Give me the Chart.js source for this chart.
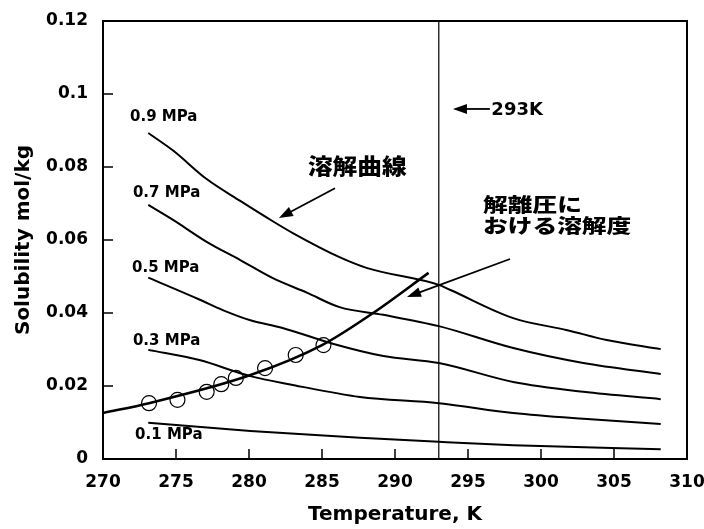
<!DOCTYPE html>
<html>
<head>
<meta charset="utf-8">
<script src="https://cdn.jsdelivr.net/npm/chart.js@4.4.1/dist/chart.umd.min.js"></script>
<style>
  html, body { margin: 0; padding: 0; background: #fff; }
  #wrap { width: 704px; height: 529px; }
</style>
</head>
<body>
<div id="wrap"><canvas id="chart" width="704" height="529"></canvas></div>
<script>
// solubility curves (temperature K, solubility mol/kg)
const p09T = [273.1, 274.8, 277.1, 279.4, 281.6, 283.0, 286.2, 288.1, 293.0, 293.8, 298.1, 301.8, 304.5, 308.2];
const p09S = [0.0893, 0.0845, 0.0767, 0.0707, 0.0652, 0.0619, 0.0553, 0.0523, 0.0477, 0.0463, 0.0386, 0.0353, 0.0326, 0.0301];
const p07T = [273.1, 274.8, 277.1, 279.4, 281.6, 284.0, 286.2, 289.2, 293.0, 298.1, 302.9, 308.2];
const p07S = [0.0696, 0.0655, 0.0595, 0.0545, 0.0496, 0.0455, 0.0416, 0.0395, 0.0364, 0.0304, 0.0263, 0.0233];
const p05T = [273.1, 276.6, 278.2, 280.1, 282.3, 285.8, 289.2, 293.0, 298.1, 302.9, 308.2];
const p05S = [0.0497, 0.0437, 0.0408, 0.0380, 0.0359, 0.0315, 0.0282, 0.0263, 0.0211, 0.0184, 0.0164];
const p03T = [273.1, 276.6, 280.1, 283.0, 287.6, 293.0, 298.1, 302.9, 308.2];
const p03S = [0.0299, 0.0271, 0.0227, 0.0203, 0.0170, 0.0153, 0.0126, 0.0110, 0.0096];
const p01T = [273.1, 280.1, 287.6, 293.0, 298.1, 308.2];
const p01S = [0.0099, 0.0077, 0.0058, 0.0047, 0.0038, 0.0027];

// solubility at dissociation pressure
const dissT = [270.0, 273.15, 280.1, 285.0, 288.5, 292.3];
const dissS = [0.0126, 0.0153, 0.0230, 0.0312, 0.0400, 0.0510];
const measT = [273.15, 275.1, 277.1, 278.1, 279.1, 281.1, 283.2, 285.1];
const measS = [0.0153, 0.0162, 0.0184, 0.0205, 0.0222, 0.0249, 0.0285, 0.0312];

const refT = 293;
const pressureLabels = ["0.9 MPa", "0.7 MPa", "0.5 MPa", "0.3 MPa", "0.1 MPa"];
const xTicks = [270, 275, 280, 285, 290, 295, 300, 305, 310];
const yTicks = [0, 0.02, 0.04, 0.06, 0.08, 0.1, 0.12];

const pts = (xs, ys) => xs.map((x, i) => ({ x: x, y: ys[i] }));

function curve(xs, ys, width) {
  return {
    data: pts(xs, ys),
    showLine: true,
    borderColor: "#000",
    borderWidth: width,
    pointRadius: 0,
    cubicInterpolationMode: "monotone",
    fill: false,
  };
}

// label positions in data units
const labelPos = [
  { x: 271.85, y: 0.0937 },
  { x: 272.05, y: 0.0729 },
  { x: 271.99, y: 0.0523 },
  { x: 272.05, y: 0.0323 },
  { x: 272.2, y: 0.0066 },
];

const jpFont = "'Noto Sans CJK JP', 'Noto Sans CJK SC', sans-serif";
const latinFont = "'DejaVu Sans', sans-serif";

function arrow(ctx, x1, y1, x2, y2) {
  const ang = Math.atan2(y2 - y1, x2 - x1);
  const len = 14, half = 5;
  ctx.beginPath();
  ctx.moveTo(x1, y1);
  ctx.lineTo(x2 - Math.cos(ang) * len * 0.8, y2 - Math.sin(ang) * len * 0.8);
  ctx.lineWidth = 1.8;
  ctx.stroke();
  ctx.beginPath();
  ctx.moveTo(x2, y2);
  ctx.lineTo(x2 - Math.cos(ang) * len - Math.sin(ang) * half, y2 - Math.sin(ang) * len + Math.cos(ang) * half);
  ctx.lineTo(x2 - Math.cos(ang) * len + Math.sin(ang) * half, y2 - Math.sin(ang) * len - Math.cos(ang) * half);
  ctx.closePath();
  ctx.fill();
}

function stretchedText(ctx, text, x, y, sx) {
  ctx.save();
  ctx.translate(x, y);
  ctx.scale(sx, 1);
  ctx.fillText(text, 0, 0);
  ctx.restore();
}

const decor = {
  id: "decor",
  afterDatasetsDraw(chart) {
    const { ctx, chartArea: a, scales: { x, y } } = chart;
    ctx.save();
    ctx.strokeStyle = "#000";
    ctx.fillStyle = "#000";

    // frame
    ctx.lineWidth = 2;
    ctx.strokeRect(a.left, a.top, a.right - a.left, a.bottom - a.top);

    // inward tick marks
    ctx.lineWidth = 1.5;
    ctx.beginPath();
    xTicks.slice(1, -1).forEach(v => {
      const px = x.getPixelForValue(v);
      ctx.moveTo(px, a.bottom);
      ctx.lineTo(px, a.bottom - 10);
    });
    yTicks.slice(1, -1).forEach(v => {
      const py = y.getPixelForValue(v);
      ctx.moveTo(a.left, py);
      ctx.lineTo(a.left + 10, py);
    });
    ctx.stroke();

    // pressure labels
    ctx.font = "bold 15px " + latinFont;
    ctx.textBaseline = "middle";
    ctx.textAlign = "left";
    labelPos.forEach((p, i) => {
      ctx.fillText(pressureLabels[i], x.getPixelForValue(p.x), y.getPixelForValue(p.y));
    });

    // 293K marker
    arrow(ctx, x.getPixelForValue(296.5), y.getPixelForValue(0.0959),
               x.getPixelForValue(293.97), y.getPixelForValue(0.0959));
    ctx.font = "bold 18px " + latinFont;
    ctx.fillText("293K", x.getPixelForValue(296.6), y.getPixelForValue(0.0959) + 1);

    // 溶解曲線
    ctx.font = "900 22px " + jpFont;
    stretchedText(ctx, "溶解曲線", x.getPixelForValue(284.04), y.getPixelForValue(0.0803), 1.12);
    arrow(ctx, x.getPixelForValue(285.89), y.getPixelForValue(0.0742),
               x.getPixelForValue(282.05), y.getPixelForValue(0.066));

    // 解離圧における溶解度
    ctx.font = "900 19px " + jpFont;
    stretchedText(ctx, "解離圧に", x.getPixelForValue(296.03), y.getPixelForValue(0.0696), 1.3);
    stretchedText(ctx, "おける溶解度", x.getPixelForValue(296.03), y.getPixelForValue(0.0638), 1.3);
    arrow(ctx, x.getPixelForValue(297.88), y.getPixelForValue(0.0548),
               x.getPixelForValue(290.82), y.getPixelForValue(0.0444));

    ctx.restore();
  },
};

new Chart(document.getElementById("chart"), {
  type: "scatter",
  data: {
    datasets: [
      curve(p09T, p09S, 2),
      curve(p07T, p07S, 2),
      curve(p05T, p05S, 2),
      curve(p03T, p03S, 2),
      curve(p01T, p01S, 2),
      curve(dissT, dissS, 2.6),
      {
        data: pts([refT, refT], [0, 0.12]),
        showLine: true,
        borderColor: "#000",
        borderWidth: 1.2,
        pointRadius: 0,
      },
      {
        data: pts(measT, measS),
        showLine: false,
        pointRadius: 7.5,
        pointBorderWidth: 1.2,
        pointBorderColor: "#000",
        pointBackgroundColor: "rgba(0,0,0,0)",
      },
    ],
  },
  options: {
    responsive: false,
    animation: false,
    layout: { padding: { left: 0, right: 17, top: 21, bottom: 0 } },
    plugins: { legend: { display: false }, tooltip: { enabled: false } },
    scales: {
      x: {
        type: "linear",
        min: 270,
        max: 310,
        afterBuildTicks: s => { s.ticks = xTicks.map(v => ({ value: v })); },
        afterFit: s => { s.height = 70; s.paddingLeft = 0; s.paddingRight = 0; },
        grid: { display: false, drawTicks: false },
        border: { display: false },
        ticks: {
          color: "#000",
          padding: 13,
          font: { family: latinFont, size: 17, weight: "bold" },
          maxRotation: 0,
        },
        title: {
          display: true,
          text: "Temperature, K",
          color: "#000",
          font: { family: latinFont, size: 20, weight: "bold" },
          padding: { top: 0, bottom: 2 },
        },
      },
      y: {
        type: "linear",
        min: 0,
        max: 0.12,
        afterBuildTicks: s => { s.ticks = yTicks.map(v => ({ value: v })); },
        afterFit: s => { s.width = 103; s.paddingTop = 0; s.paddingBottom = 0; },
        grid: { display: false, drawTicks: false },
        border: { display: false },
        ticks: {
          color: "#000",
          padding: 15,
          font: { family: latinFont, size: 17, weight: "bold" },
          callback: v => String(+v.toFixed(2)),
        },
        title: {
          display: true,
          text: "Solubility mol/kg",
          color: "#000",
          font: { family: latinFont, size: 20, weight: "bold" },
          padding: { top: 12, bottom: 0 },
        },
      },
    },
  },
  plugins: [decor],
});
</script>
</body>
</html>
